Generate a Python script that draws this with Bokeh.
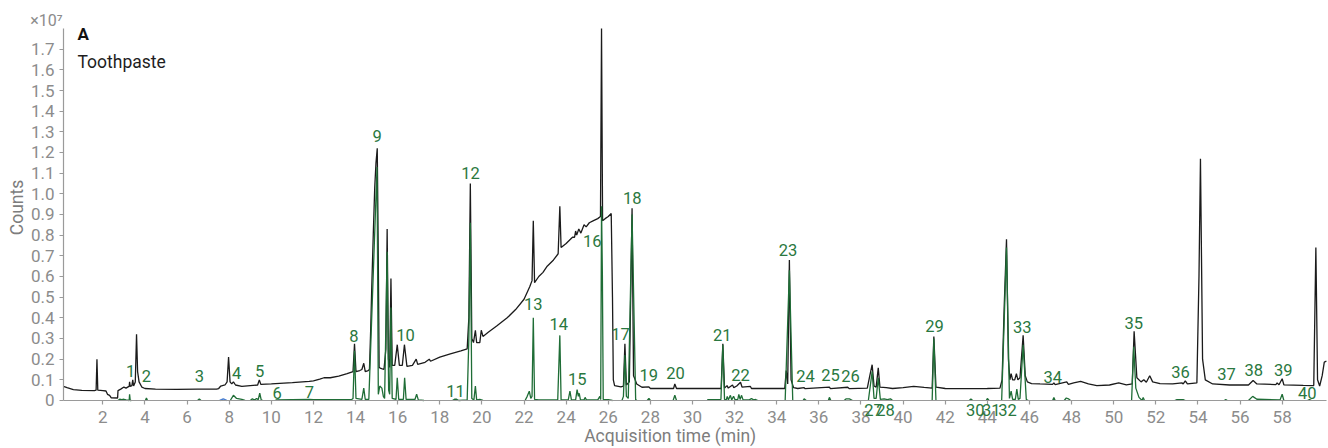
from bokeh.plotting import figure
from bokeh.models import ColumnDataSource, LabelSet, Label, FixedTicker, CustomJSTickFormatter, Range1d
from bokeh.core.properties import value
from bokeh.embed import file_html
from bokeh.resources import INLINE

# ---------------- data (counts in units of 1e7) ----------------
black_t = [0.13, 0.3, 0.6, 1.0, 1.6, 1.68, 1.72, 1.76, 2.0, 2.15, 2.22, 2.32, 2.4, 2.7, 2.72, 2.85, 3.0, 3.1, 3.2,
           3.25, 3.27, 3.3, 3.38, 3.42, 3.46, 3.54, 3.6, 3.65, 3.72, 3.85, 4.0, 4.5, 5.5, 6.5, 7.4, 7.5, 7.6, 7.8,
           7.9, 7.97, 8.04, 8.12, 8.2, 8.3, 8.6, 9.0, 9.35, 9.43, 9.5, 10.0, 11.0, 11.8, 12.0, 12.3, 12.5, 12.8,
           13.2, 13.6, 13.88, 13.95, 14.02, 14.2, 14.3, 14.39, 14.46, 14.6, 14.66, 14.72, 14.77, 14.84, 14.91,
           14.97, 15.03, 15.07, 15.12, 15.2, 15.35, 15.44, 15.5, 15.56, 15.62, 15.68, 15.74, 15.86, 15.98, 16.08,
           16.22, 16.32, 16.44, 16.7, 16.88, 16.95, 17.3, 17.5, 17.56, 18.0, 18.5, 19.0, 19.3, 19.38, 19.45, 19.52,
           19.6, 19.69, 19.75, 19.9, 19.97, 20.05, 20.3, 20.7, 21.2, 21.6, 22.0, 22.27, 22.38, 22.44, 22.5, 22.7,
           22.9, 23.1, 23.4, 23.62, 23.7, 23.76, 24.0, 24.3, 24.4, 24.45, 24.5, 24.6, 24.7, 24.85, 24.95, 25.1,
           25.3, 25.5, 25.63, 25.68, 25.73, 25.85, 26.0, 26.14, 26.2, 26.24, 26.3, 26.6, 26.72, 26.79, 26.86, 27.0,
           27.13, 27.2, 27.26, 27.35, 27.6, 27.93, 28.0, 29.1, 29.16, 29.24, 31.36, 31.44, 31.52, 31.64, 31.7,
           31.9, 31.96, 32.1, 32.28, 32.35, 32.75, 32.8, 34.38, 34.45, 34.52, 34.6, 34.68, 34.8, 35.0, 35.3, 35.35,
           36.5, 36.55, 37.37, 37.45, 38.3, 38.42, 38.53, 38.62, 38.72, 38.82, 38.9, 39.2, 39.5, 40.0, 40.5, 41.0,
           41.38, 41.46, 41.56, 42.0, 43.0, 44.0, 44.6, 44.7, 44.8, 44.91, 45.0, 45.07, 45.13, 45.2, 45.3, 45.38,
           45.45, 45.55, 45.7, 45.8, 45.9, 46.1, 46.5, 47.1, 47.16, 47.22, 47.77, 47.85, 48.1, 48.43, 48.8, 49.2,
           49.8, 50.24, 50.6, 50.88, 50.97, 51.1, 51.3, 51.43, 51.55, 51.71, 51.85, 52.2, 52.8, 53.25, 53.3, 53.4,
           53.5, 53.95, 54.05, 54.12, 54.22, 54.35, 54.7, 55.5, 56.4, 56.62, 56.8, 57.7, 57.76, 57.85, 58.0, 58.08,
           59.0, 59.5, 59.6, 59.68, 59.78, 59.9, 60.0, 60.1]
black_y = [0.068, 0.062, 0.053, 0.049, 0.048, 0.05, 0.20, 0.05, 0.048, 0.046, 0.03, 0.025, 0.013, 0.012, 0.048,
           0.055, 0.065, 0.06, 0.066, 0.068, 0.09, 0.068, 0.072, 0.10, 0.07, 0.09, 0.32, 0.14, 0.09, 0.065, 0.058,
           0.055, 0.054, 0.055, 0.055, 0.058, 0.07, 0.075, 0.09, 0.21, 0.09, 0.08, 0.09, 0.075, 0.068, 0.072,
           0.075, 0.10, 0.078, 0.08, 0.086, 0.093, 0.095, 0.103, 0.11, 0.11, 0.118, 0.13, 0.14, 0.275, 0.14,
           0.145, 0.15, 0.18, 0.14, 0.145, 0.15, 0.35, 0.55, 0.80, 1.03, 1.15, 1.22, 0.80, 0.16, 0.155, 0.15,
           0.25, 0.83, 0.2, 0.16, 0.59, 0.17, 0.17, 0.27, 0.17, 0.17, 0.27, 0.165, 0.17, 0.2, 0.175, 0.185, 0.2,
           0.19, 0.21, 0.226, 0.24, 0.25, 0.4, 1.05, 0.3, 0.28, 0.34, 0.28, 0.28, 0.34, 0.31, 0.33, 0.36, 0.40,
           0.44, 0.49, 0.55, 0.58, 0.87, 0.57, 0.60, 0.62, 0.65, 0.68, 0.71, 0.94, 0.74, 0.76, 0.79, 0.79, 0.82,
           0.80, 0.83, 0.81, 0.85, 0.84, 0.86, 0.87, 0.88, 0.89, 1.80, 0.87, 0.88, 0.89, 0.905, 0.50, 0.10, 0.072,
           0.066, 0.07, 0.275, 0.075, 0.09, 0.93, 0.12, 0.105, 0.08, 0.064, 0.066, 0.058, 0.058, 0.08, 0.058,
           0.058, 0.275, 0.06, 0.072, 0.06, 0.075, 0.062, 0.07, 0.088, 0.065, 0.068, 0.058, 0.058, 0.145, 0.08,
           0.68, 0.1, 0.062, 0.058, 0.062, 0.057, 0.065, 0.057, 0.064, 0.057, 0.06, 0.12, 0.173, 0.07, 0.065,
           0.158, 0.065, 0.062, 0.058, 0.062, 0.068, 0.063, 0.06, 0.31, 0.065, 0.058, 0.057, 0.058, 0.06, 0.1,
           0.45, 0.78, 0.2, 0.1, 0.13, 0.1, 0.1, 0.13, 0.1, 0.11, 0.315, 0.12, 0.09, 0.082, 0.08, 0.078, 0.085,
           0.077, 0.09, 0.078, 0.085, 0.092, 0.08, 0.072, 0.075, 0.085, 0.076, 0.08, 0.335, 0.11, 0.09, 0.1, 0.088,
           0.12, 0.09, 0.082, 0.08, 0.085, 0.08, 0.095, 0.08, 0.085, 0.6, 1.17, 0.2, 0.1, 0.08, 0.075, 0.075,
           0.097, 0.08, 0.077, 0.085, 0.076, 0.105, 0.076, 0.073, 0.072, 0.74, 0.1, 0.07, 0.12, 0.186, 0.19]

# extracted-ion traces (green), one list per stretch of trace
green_t = [
    [2.72, 2.8, 2.9, 3.0, 3.1, 3.25, 3.27, 3.3, 3.35],
    [4.02, 4.07, 4.12],
    [6.5, 6.58, 6.66],
    [8.05, 8.2, 8.35, 8.6, 8.75],
    [9.0, 9.1, 9.2, 9.3, 9.38, 9.45, 9.52, 9.6],
    [10.2, 11.8, 12.0, 13.8, 13.88, 13.95, 14.02, 14.3, 14.39, 14.46, 14.63, 15.02, 15.08, 15.15, 15.25,
     15.32, 15.38, 15.5, 15.57, 15.62, 15.68, 15.74, 15.92, 15.98, 16.05, 16.27, 16.33, 16.4, 16.82, 16.9,
     16.98, 17.25],
    [18.6, 18.7, 18.8, 18.9, 19.3, 19.38, 19.45, 19.52, 19.62, 19.69, 19.75, 19.9, 20.05],
    [22.05, 22.15, 22.25, 22.32, 22.38, 22.44, 22.5, 22.7, 23.6, 23.7, 23.76, 24.1, 24.18, 24.25, 24.45,
     24.52, 24.58, 24.62, 24.68, 24.85, 24.9, 24.96, 25.5, 25.6, 25.64, 25.68, 25.72, 25.76, 26.0, 26.2],
    [26.65, 26.72, 26.79, 26.86, 26.95, 27.13, 27.3, 27.35],
    [27.85, 27.93, 28.0],
    [29.08, 29.16, 29.24],
    [30.7, 31.1, 31.35, 31.44, 31.52, 31.6, 31.65, 31.7, 31.8, 31.86, 31.95, 32.02, 32.15, 32.2, 32.26,
     32.33, 32.4, 32.7, 32.8, 32.9, 33.0, 33.1],
    [34.4, 34.6, 34.76],
    [35.25, 35.3, 35.4],
    [36.45, 36.5, 36.57],
    [37.2, 37.3, 37.45, 37.6],
    [38.35, 38.53, 38.62, 38.72, 38.82, 38.92, 39.1, 39.25, 39.4, 39.5],
    [41.38, 41.46, 41.56],
    [43.15, 43.22, 43.3],
    [43.95, 44.0, 44.08],
    [44.68, 44.91, 45.05, 45.13, 45.2, 45.33, 45.4, 45.47, 45.55, 45.7, 45.85, 45.95],
    [47.1, 47.16, 47.22],
    [47.65, 47.75, 47.85, 47.95],
    [50.85, 50.95, 51.05, 51.2, 51.35, 51.4, 51.46],
    [52.9, 53.0, 53.3, 53.4],
    [55.25, 55.32, 55.4],
    [56.4, 56.6, 56.8, 57.9, 58.0, 58.08],
    [59.2, 59.3, 59.4],
]
green_y = [
    [0.0, 0.006, 0.004, 0.006, 0.003, 0.0, 0.03, 0.0, 0.0],
    [0.0, 0.012, 0.0],
    [0.0, 0.008, 0.0],
    [0.0, 0.025, 0.01, 0.005, 0.0],
    [0.0, 0.008, 0.002, 0.01, 0.004, 0.035, 0.003, 0.0],
    [0.003, 0.005, 0.004, 0.004, 0.01, 0.24, 0.01, 0.005, 0.06, 0.005, 0.005, 1.13, 0.03, 0.07, 0.06,
     0.02, 0.01, 0.72, 0.05, 0.03, 0.45, 0.01, 0.005, 0.11, 0.005, 0.005, 0.11, 0.005, 0.005, 0.03,
     0.003, 0.0],
    [0.0, 0.006, 0.006, 0.0, 0.003, 0.3, 0.86, 0.01, 0.003, 0.07, 0.003, 0.005, 0.0],
    [0.0, 0.02, 0.045, 0.01, 0.02, 0.40, 0.005, 0.003, 0.003, 0.315, 0.003, 0.003, 0.045, 0.003, 0.003,
     0.053, 0.02, 0.035, 0.003, 0.003, 0.015, 0.003, 0.003, 0.02, 0.005, 0.94, 0.61, 0.005, 0.004, 0.0],
    [0.0, 0.02, 0.22, 0.02, 0.01, 0.90, 0.005, 0.0],
    [0.0, 0.01, 0.0],
    [0.0, 0.025, 0.0],
    [0.004, 0.004, 0.005, 0.27, 0.005, 0.003, 0.02, 0.003, 0.025, 0.003, 0.02, 0.003, 0.005, 0.03, 0.005,
     0.025, 0.003, 0.003, 0.01, 0.003, 0.005, 0.0],
    [0.0, 0.63, 0.0],
    [0.0, 0.008, 0.0],
    [0.0, 0.015, 0.0],
    [0.0, 0.008, 0.008, 0.0],
    [0.0, 0.14, 0.01, 0.01, 0.11, 0.005, 0.008, 0.004, 0.008, 0.0],
    [0.0, 0.30, 0.0],
    [0.0, 0.008, 0.0],
    [0.0, 0.01, 0.0],
    [0.0, 0.74, 0.01, 0.045, 0.005, 0.005, 0.055, 0.005, 0.01, 0.27, 0.005, 0.0],
    [0.0, 0.015, 0.0],
    [0.0, 0.012, 0.008, 0.0],
    [0.0, 0.26, 0.06, 0.015, 0.0, 0.015, 0.0],
    [0.0, 0.004, 0.004, 0.0],
    [0.0, 0.004, 0.0],
    [0.0, 0.02, 0.006, 0.003, 0.03, 0.0],
    [0.0, 0.005, 0.0],
]

blue_t = [7.55, 7.72, 7.88]
blue_y = [0.0, 0.008, 0.0]

peak_labels = [str(i) for i in range(1, 41)]
label_t = [3.32, 4.07, 6.58, 8.35, 9.45, 10.28, 11.81, 13.92, 15.03, 16.37, 18.75, 19.46, 22.44, 23.65, 24.53,
           25.24, 26.58, 27.14, 27.92, 29.19, 31.41, 32.28, 34.54, 35.37, 36.55, 37.50, 38.59, 39.16, 41.49,
           43.43, 44.19, 44.96, 45.66, 47.11, 50.95, 53.17, 55.36, 56.65, 58.05, 59.19]
label_y = [0.141, 0.118, 0.118, 0.132, 0.142, 0.037, 0.040, 0.312, 1.280, 0.317, 0.045, 1.102, 0.465, 0.372,
           0.102, 0.772, 0.323, 0.978, 0.125, 0.132, 0.318, 0.125, 0.730, 0.118, 0.125, 0.118, -0.048, -0.048,
           0.360, -0.048, -0.048, -0.048, 0.355, 0.113, 0.375, 0.137, 0.129, 0.149, 0.149, 0.035]

x_ticks = [2, 4, 6, 8, 10, 12, 14, 16, 18, 20, 22, 24, 26, 28, 30, 32, 34, 36, 38, 40, 42, 44, 46, 48, 50,
           52, 54, 56, 58]
y_ticks = [0, 0.1, 0.2, 0.3, 0.4, 0.5, 0.6, 0.7, 0.8, 0.9, 1.0, 1.1, 1.2, 1.3, 1.4, 1.5, 1.6, 1.7]
x_min, x_max = 0.13, 60.1
y_min, y_max = 0.0, 1.8

# ---------------- styling ----------------
BLACK = "#1b1b1b"
GREEN = "#1f6d36"
GREEN_TXT = "#2a7840"
GRAY = "#8c8c8c"
AXIS_GRAY = "#9a9a9a"
LABEL_GRAY = "#7d7d7d"
FONT = "Roboto"

# The frame spans the whole canvas so that texts lying outside the axes are not clipped;
# the axes are pinned at the data origin.
p = figure(width=1328, height=448, output_backend="svg", toolbar_location=None,
           x_range=Range1d(-2.86, 60.2), y_range=Range1d(-0.2323, 1.9355),
           min_border_left=0, min_border_right=0, min_border_top=0, min_border_bottom=0)
p.outline_line_color = None
p.grid.visible = False
p.background_fill_color = "white"
p.border_fill_color = "white"

p.line(black_t, black_y, line_color=BLACK, line_width=1.3)
p.line(blue_t, blue_y, line_color="#4a7fd0", line_width=1.5)
p.multi_line(green_t, green_y, line_color=GREEN, line_width=1.3)

p.xaxis.ticker = FixedTicker(ticks=x_ticks)
p.yaxis.ticker = FixedTicker(ticks=y_ticks)
p.yaxis.formatter = CustomJSTickFormatter(code="return Math.abs(tick) < 1e-9 ? '0' : tick.toFixed(1);")
p.xaxis.fixed_location = y_min
p.yaxis.fixed_location = x_min
p.xaxis.bounds = (x_min, x_max)
p.yaxis.bounds = (y_min, y_max)

for ax in (p.xaxis[0], p.yaxis[0]):
    ax.axis_line_color = AXIS_GRAY
    ax.axis_line_width = 1.2
    ax.major_tick_line_color = AXIS_GRAY
    ax.major_tick_line_width = 1.2
    ax.minor_tick_line_color = None
    ax.major_tick_out = 4
    ax.major_tick_in = 0
    ax.major_label_text_font = FONT
    ax.major_label_text_font_size = "17px"
    ax.major_label_text_color = GRAY
p.xaxis.major_label_standoff = 7
p.yaxis.major_label_standoff = 5

# axis titles
p.add_layout(Label(x=28.94, y=-0.1742, text="Acquisition time (min)", text_align="center",
                   text_baseline="middle", text_font=FONT, text_font_size="17.5px", text_color=LABEL_GRAY))
p.add_layout(Label(x=-2.10, y=0.934, text="Counts", angle=1.5708, text_align="center",
                   text_baseline="middle", text_font=FONT, text_font_size="17.5px", text_color=LABEL_GRAY))

# peak numbers
src = ColumnDataSource(dict(t=label_t, y=label_y, text=peak_labels))
p.add_layout(LabelSet(x="t", y="y", text="text", source=src, text_align="center", text_baseline="middle",
                      text_font=value(FONT), text_font_size="16.5px", text_color=GREEN_TXT))

p.add_layout(Label(x=0.085, y=1.8387, text="×10⁷", text_align="right", text_baseline="middle",
                   text_font=FONT, text_font_size="16px", text_color=GRAY))
p.add_layout(Label(x=0.795, y=1.771, text="A", text_align="left", text_baseline="middle",
                   text_font=FONT, text_font_size="17px", text_font_style="bold", text_color="#111111"))
p.add_layout(Label(x=0.795, y=1.640, text="Toothpaste", text_align="left", text_baseline="middle",
                   text_font=FONT, text_font_size="17.5px", text_color="#1e1e1e"))

open("out.html", "w").write(file_html(p, INLINE))
